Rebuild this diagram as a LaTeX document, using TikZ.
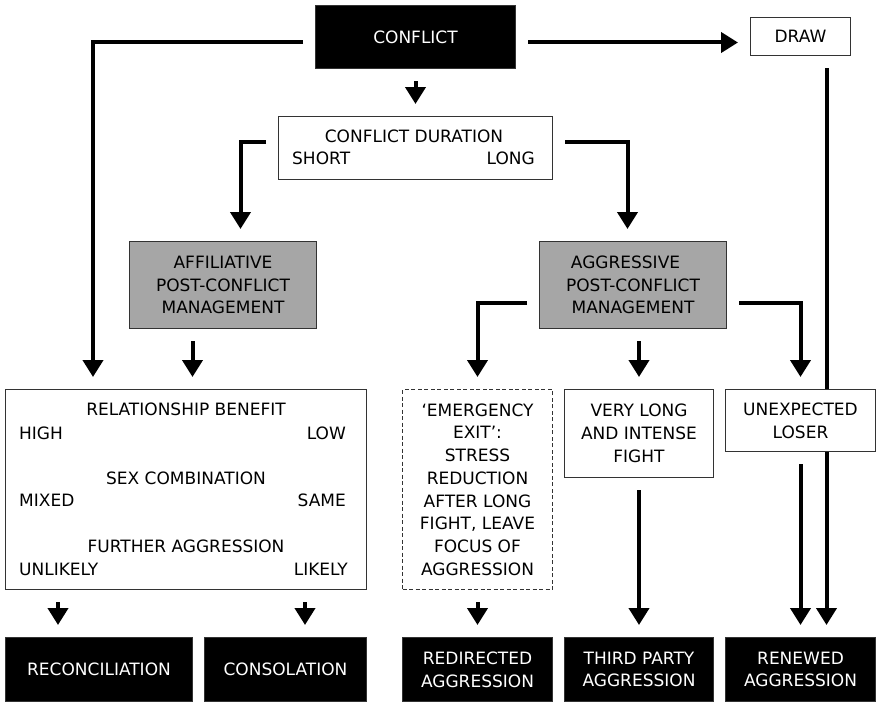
\documentclass[tikz,border=0pt]{standalone}
\usepackage{fontspec}
\setmainfont{DejaVu Sans}
\usetikzlibrary{arrows.meta}
\pgfdeclarelayer{bg}
\pgfsetlayers{bg,main}
\begin{document}
\begin{tikzpicture}[x=1pt,y=-1pt,
  box/.style={draw=black!80, fill=white, line width=1pt, inner sep=0pt, anchor=north west, align=center, font=\fontsize{17}{22.7}\selectfont},
  dark/.style={box, fill=black, text=white},
  grey/.style={box, fill=black!35},
  dbox/.style={box, dash pattern=on 4pt off 2.5pt},
  lbl/.style={inner sep=0pt, font=\fontsize{17}{22.7}\selectfont, text height=12.4pt, text depth=0pt},
  arr/.style={line width=4pt, -{Triangle[width=20pt,length=17pt]}, shorten <=12pt, shorten >=12pt},
]
\useasboundingbox (0,0) rectangle (877,701);

\node[dark, minimum width=200pt, minimum height=63pt] (conflict) at (315,5) {CONFLICT};
\node[box, minimum width=100pt, minimum height=38pt] (drawn) at (750,17) {DRAW};
\node[box, minimum width=274pt, minimum height=63pt] (duration) at (278,116) {};
\node[lbl] (durt) at (414,136) {CONFLICT DURATION};
\node[lbl, anchor=west] (short) at (292,158) {SHORT};
\node[lbl, anchor=east] (long) at (535,158) {LONG};

\node[grey, minimum width=187pt, minimum height=87pt] (affil) at (129,241) {AFFILIATIVE\\POST-CONFLICT\\MANAGEMENT};
\node[grey, minimum width=187pt, minimum height=87pt] (aggr) at (539,241) {AGGRESSIVE\kern15pt\\POST-CONFLICT\\MANAGEMENT};

\node[box, minimum width=361pt, minimum height=200pt] (relbox) at (5,389) {};
\node[lbl] (rb) at (186,409) {RELATIONSHIP BENEFIT};
\node[lbl, anchor=west] (high) at (19,433) {HIGH};
\node[lbl, anchor=east] (low) at (346,433) {LOW};
\node[lbl] (sc) at (186,478) {SEX COMBINATION};
\node[lbl, anchor=west] (mixed) at (19,500) {MIXED};
\node[lbl, anchor=east] (same) at (346,500) {SAME};
\node[lbl] (fa) at (186,546) {FURTHER AGGRESSION};
\node[lbl, anchor=west] (unlikely) at (19,569) {UNLIKELY};
\node[lbl, anchor=east] (likely) at (348,569) {LIKELY};

\node[dbox, minimum width=150pt, minimum height=200pt] (emerg) at (402,389) {‘EMERGENCY\\EXIT’:\\STRESS\\REDUCTION\\AFTER LONG\\FIGHT, LEAVE\\FOCUS OF\\AGGRESSION};
\node[box, minimum width=149pt, minimum height=88pt] (verylong) at (564,389) {VERY LONG\\AND INTENSE\\FIGHT};
\node[box, minimum width=150pt, minimum height=62pt] (unexp) at (725,389) {UNEXPECTED\\LOSER};

\node[dark, minimum width=187pt, minimum height=64pt] (recon) at (5,637) {RECONCILIATION};
\node[dark, minimum width=162pt, minimum height=64pt] (consol) at (204,637) {CONSOLATION};
\node[dark, minimum width=150pt, minimum height=64pt] (redir) at (402,637) {REDIRECTED\\AGGRESSION};
\node[dark, minimum width=149pt, minimum height=64pt] (third) at (564,637) {THIRD PARTY\\AGGRESSION};
\node[dark, minimum width=150pt, minimum height=64pt] (renew) at (725,637) {RENEWED\\AGGRESSION};

\draw[arr] ([yshift=-5.5pt]conflict.west) -| ([xshift=88pt]relbox.north west);
\draw[arr] ([yshift=-5.5pt]conflict.east) -- ([yshift=-5.5pt]conflict.east -| drawn.west);
\draw[arr] (conflict.south) -- (duration.north);
\draw[arr] ([yshift=6.5pt]duration.west) -| ([xshift=17.5pt]affil.north);
\draw[arr] ([yshift=6.5pt]duration.east) -| ([xshift=-5.5pt]aggr.north);
\draw[arr] ([xshift=-30.5pt]affil.south) -- ([xshift=-30.5pt]affil.south |- relbox.north);
\draw[arr] ([yshift=-17.5pt]aggr.west) -| (emerg.north);
\draw[arr] (aggr.south -| verylong.north) -- (verylong.north);
\draw[arr] ([yshift=-17.5pt]aggr.east) -| (unexp.north);
\begin{pgfonlayer}{bg}
\draw[arr] ([xshift=26pt]drawn.south) -- ([xshift=26pt]drawn.south |- renew.north);
\end{pgfonlayer}
\draw[arr] (unexp.south) -- (renew.north);
\draw[arr] (verylong.south) -- (third.north);
\draw[arr] (emerg.south) -- (redir.north);
\draw[arr] ([xshift=53pt]relbox.south west) -- ([xshift=53pt]relbox.south west |- recon.north);
\draw[arr] ([xshift=300pt]relbox.south west) -- ([xshift=300pt]relbox.south west |- consol.north);
\end{tikzpicture}
\end{document}
